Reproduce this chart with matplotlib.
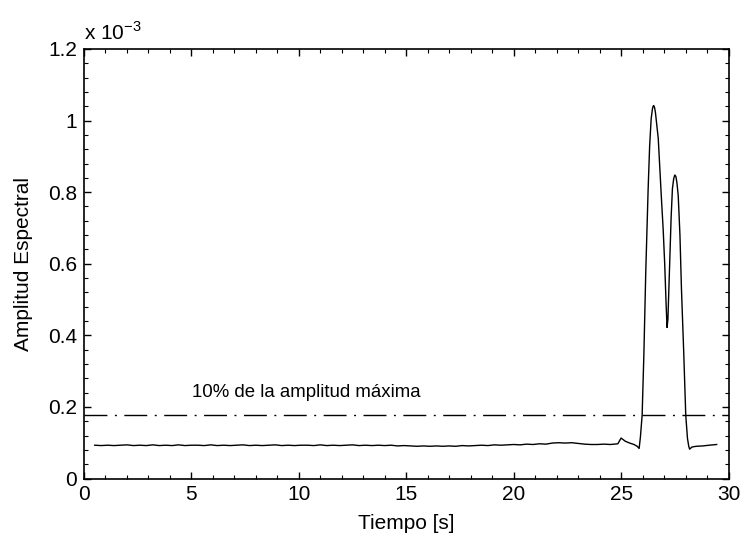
import numpy as np
import matplotlib
matplotlib.use("Agg")
import matplotlib.pyplot as plt
from matplotlib.ticker import MultipleLocator

plt.rcParams['font.family'] = ['Liberation Sans', 'DejaVu Sans']

# Baseline segment: times on a 0.3 s grid, values (x 1e-3)
t_base = np.round(np.arange(0.5, 24.8, 0.3), 2)
v_base = [0.093, 0.092, 0.093, 0.092, 0.093, 0.094, 0.092, 0.093, 0.092, 0.094,
          0.092, 0.093, 0.092, 0.094, 0.092, 0.093, 0.093, 0.092, 0.094, 0.092,
          0.093, 0.092, 0.093, 0.094, 0.092, 0.093, 0.092, 0.093, 0.094, 0.092,
          0.093, 0.092, 0.093, 0.093, 0.092, 0.094, 0.092, 0.093, 0.092, 0.093,
          0.094, 0.092, 0.093, 0.092, 0.093, 0.092, 0.093, 0.091, 0.092, 0.091,
          0.090, 0.091, 0.090, 0.091, 0.090, 0.091, 0.090, 0.092, 0.091, 0.092,
          0.093, 0.092, 0.094, 0.093, 0.094, 0.095, 0.094, 0.096, 0.095, 0.097,
          0.096, 0.099, 0.100, 0.099, 0.100, 0.098, 0.096, 0.095, 0.095, 0.096,
          0.095]

# Peak segment
t_peak = [24.85, 25.0, 25.2, 25.4, 25.6, 25.75, 25.84, 25.90, 25.98, 26.06,
          26.15, 26.26, 26.33, 26.40, 26.46, 26.49, 26.52, 26.56, 26.60, 26.66,
          26.73, 26.80, 26.88, 26.96, 27.03, 27.10, 27.14, 27.18, 27.22, 27.27,
          27.33, 27.39, 27.45, 27.50, 27.55, 27.60, 27.66, 27.74, 27.81, 27.92,
          28.01, 28.09, 28.15, 28.19, 28.3, 28.5, 28.8, 29.1, 29.45]
v_peak = [0.097, 0.113, 0.104, 0.099, 0.095, 0.090, 0.084, 0.116, 0.177, 0.345,
          0.580, 0.810, 0.930, 1.005, 1.033, 1.040, 1.042, 1.036, 1.022, 0.990,
          0.950, 0.870, 0.780, 0.695, 0.600, 0.480, 0.422, 0.445, 0.520, 0.620,
          0.730, 0.810, 0.838, 0.848, 0.844, 0.826, 0.790, 0.680, 0.530, 0.345,
          0.177, 0.112, 0.090, 0.082, 0.088, 0.090, 0.091, 0.093, 0.095]

threshold = 0.177
threshold_label = "10% de la amplitud máxima"

t = np.concatenate([t_base, t_peak])
v = np.concatenate([v_base, v_peak])

fig = plt.figure(figsize=(7.42, 5.40), dpi=100)
ax = fig.add_axes([84/742, 1-478.5/540, (728.5-84)/742, (478.5-49)/540])

ax.plot(t, v, color='black', lw=1.0)
ax.axhline(threshold, color='black', lw=1.0, linestyle=(0, (16.5, 5.4, 1.4, 5.4)))
ax.text(5.05, 0.227, threshold_label, fontsize=13.4, ha='left', va='baseline')

ax.set_xlim(0, 30)
ax.set_ylim(0, 1.2)
ax.xaxis.set_major_locator(MultipleLocator(5))
ax.xaxis.set_minor_locator(MultipleLocator(1))
ax.set_yticks([0, 0.2, 0.4, 0.6, 0.8, 1.0, 1.2])
ax.set_yticklabels(['0', '0.2', '0.4', '0.6', '0.8', '1', '1.2'])
ax.yaxis.set_minor_locator(MultipleLocator(0.04))
ax.tick_params(which='both', direction='in', top=True, right=True, labelsize=15)
ax.tick_params(which='major', length=5, width=1, pad=5)
ax.tick_params(which='minor', length=3, width=0.8)
for s in ax.spines.values():
    s.set_linewidth(1.2)

ax.set_xlabel('Tiempo [s]', fontsize=15, labelpad=7)
ax.set_ylabel('Amplitud Espectral', fontsize=15, labelpad=11)
ax.text(0.0, 1.012, r'x 10$^{\mathregular{-3}}$', transform=ax.transAxes,
        fontsize=15, ha='left', va='bottom')

fig.savefig('out.png', dpi=100)
